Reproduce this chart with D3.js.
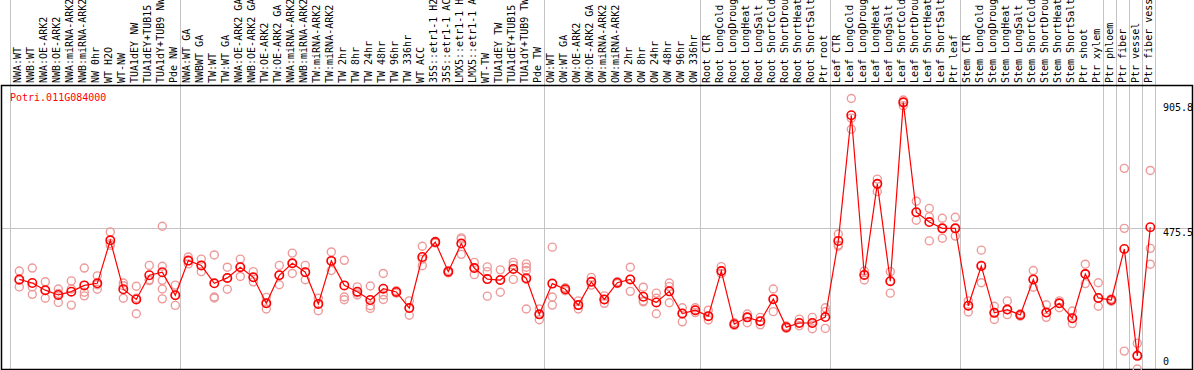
<!DOCTYPE html>
<html>
<head>
<meta charset="utf-8">
<script src="https://cdn.jsdelivr.net/npm/d3@7"></script>
<style>
  body { margin: 0; background: #fff; }
  svg { display: block; }
  text { font-family: "DejaVu Sans Mono", "Liberation Mono", monospace; font-size: 10px; }
</style>
</head>
<body>
<svg id="chart"></svg>
<script>
// Chart data
const geneName = "Potri.011G084000";

const categories = [
  "NWA:WT", "NWB:WT", "NWA:OE-ARK2", "NWB:OE-ARK2", "NWA:miRNA-ARK2", "NWB:miRNA-ARK2",
  "NW 0hr", "WT H2O", "WT-NW", "TUA1dEY NW", "TUA1dEY+TUB15 NW", "TUA1dY+TUB9 NW", "Pde NW",
  "NWA:WT GA", "NWBWT GA", "TW:WT", "TW:WT GA", "NWA:OE-ARK2 GA", "NWB:OE-ARK2 GA",
  "TW:OE-ARK2", "TW:OE-ARK2 GA", "NWA:miRNA-ARK2", "NWB:miRNA-ARK2", "TW:miRNA-ARK2",
  "TW:miRNA-ARK2", "TW 2hr", "TW 8hr", "TW 24hr", "TW 48hr", "TW 96hr", "TW 336hr", "WT ACC",
  "35S::etr1-1 H2O", "35S::etr1-1 ACC", "LMX5::etr1-1 H2O", "LMX5::etr1-1 ACC", "WT-TW",
  "TUA1dEY TW", "TUA1dEY+TUB15 TW", "TUA1dY+TUB9 TW", "Pde TW",
  "OW:WT", "OW:WT GA", "OW:OE-ARK2", "OW:OE-ARK2 GA", "OW:miRNA-ARK2", "OW:miRNA-ARK2",
  "OW 2hr", "OW 8hr", "OW 24hr", "OW 48hr", "OW 96hr", "OW 336hr",
  "Root CTR", "Root LongCold", "Root LongDrought", "Root LongHeat", "Root LongSalt",
  "Root ShortCold", "Root ShortDrought", "Root ShortHeat", "Root ShortSalt", "Ptr root",
  "Leaf CTR", "Leaf LongCold", "Leaf LongDrought", "Leaf LongHeat", "Leaf LongSalt",
  "Leaf ShortCold", "Leaf ShortDrought", "Leaf ShortHeat", "Leaf ShortSalt", "Ptr leaf",
  "Stem CTR", "Stem LongCold", "Stem LongDrought", "Stem LongHeat", "Stem LongSalt",
  "Stem ShortCold", "Stem ShortDrought", "Stem ShortHeat", "Stem ShortSalt", "Ptr shoot",
  "Ptr xylem", "Ptr phloem", "Ptr fiber", "Ptr vessel", "Ptr fiber vessel"
];

const means = [
  300, 288, 264, 248, 259, 280, 287, 431, 267, 233, 314, 324, 247,
  363, 347, 287, 305, 341, 307, 220, 314, 354, 324, 218, 362, 280, 259, 231, 269, 258,
  204, 375, 425, 326, 420, 338, 301, 298, 335, 304, 183,
  286, 267, 214, 292, 233, 289, 300, 242, 223, 260, 186, 197,
  177, 328, 150, 173, 160, 234, 140, 154, 154, 174,
  429, 850, 315, 620, 294, 893, 525, 492, 471, 471,
  212, 345, 188, 199, 181, 300, 189, 220, 170, 318, 238,
  231, 402, 44, 475
];

const replicates = [
  [328, 275, 297], [338, 275, 250], [292, 263, 237], [268, 253, 223], [295, 268, 214],
  [338, 257, 245], [312, 282, 267], [459, 420, 414], [288, 279, 237], [277, 237, 185],
  [347, 299, 296], [478, 344, 297, 268, 235], [281, 247, 213],
  [375, 362, 352], [368, 347, 326], [382, 241, 238], [341, 305, 267], [368, 341, 310],
  [326, 307, 292], [240, 220, 201], [347, 314, 282], [388, 354, 320], [347, 324, 299],
  [237, 218, 195], [392, 362, 330], [364, 241, 232], [275, 255, 248], [278, 212, 203],
  [320, 248, 233], [262, 258, 254], [228, 204, 180], [411, 368, 346], [428, 425, 422],
  [330, 326, 322], [439, 435, 384], [357, 338, 316], [342, 326, 244], [332, 298, 257],
  [357, 348, 300], [352, 341, 330, 300, 201], [201, 183, 165],
  [408, 241, 214], [272, 267, 262], [228, 214, 201], [307, 292, 281], [245, 233, 220],
  [292, 289, 286], [341, 300, 260], [274, 228, 225], [254, 237, 185], [288, 276, 222],
  [205, 186, 158], [205, 197, 189],
  [197, 177, 164], [343, 328, 320], [155, 150, 146], [184, 173, 155], [173, 160, 148],
  [268, 234, 192], [144, 140, 136], [167, 154, 145], [173, 154, 135], [205, 192, 136],
  [452, 415, 411], [905.8, 840, 803], [328, 315, 298], [636, 620, 594], [326, 294, 254],
  [901, 893, 882], [562, 525, 498], [538, 510, 429], [505, 471, 438], [508, 471, 445],
  [228, 212, 191], [398, 348, 289], [210, 188, 166], [228, 199, 182], [185, 181, 177],
  [330, 300, 274], [215, 189, 173], [228, 220, 205], [194, 170, 152], [351, 318, 286],
  [289, 238, 210], [235, 231, 227], [672, 471, 60], [86, 46, 0], [665, 404, 351]
];

// first index of each sample group (vertical separators)
const groupStarts = [0, 13, 41, 53, 63, 73, 84, 85, 86, 87, 88];

const yMax = 951.1;
const yTickValues = [905.8, 475.5, 0];
const gridValues = [475.5];

// Layout
const W = 1194, H = 370;
const plotTop = 85, plotBottom = 369;
const plotLeft = 1, plotRight = 1193;

const svg = d3.select("#chart")
  .attr("width", W)
  .attr("height", H);

svg.append("rect").attr("width", W).attr("height", H).attr("fill", "#fff");

const idx = d3.range(categories.length);

const x = d3.scaleBand()
  .domain(idx.concat([categories.length]))
  .range([10, 10 + 13 * (categories.length + 1)])
  .padding(0);

const px = i => x(i) + 9.3;

const y = d3.scaleLinear()
  .domain([0, yMax])
  .range([plotBottom, plotTop]);

// vertical separators, full height
svg.append("g")
  .selectAll("line")
  .data(groupStarts)
  .enter().append("line")
  .attr("x1", d => Math.round(x(d) + (d > 0 ? 1 : 0)) + 0.5)
  .attr("x2", d => Math.round(x(d) + (d > 0 ? 1 : 0)) + 0.5)
  .attr("y1", 0)
  .attr("y2", H)
  .attr("stroke", "#c4c4c4")
  .attr("stroke-width", 1);

// horizontal grid line
svg.append("g")
  .selectAll("line")
  .data(gridValues)
  .enter().append("line")
  .attr("x1", plotLeft)
  .attr("x2", plotRight)
  .attr("y1", d => Math.round(y(d)) + 1.5)
  .attr("y2", d => Math.round(y(d)) + 1.5)
  .attr("stroke", "#c4c4c4");

// plot frame
svg.append("rect")
  .attr("x", plotLeft + 0.5)
  .attr("y", plotTop + 0.5)
  .attr("width", plotRight - plotLeft - 1)
  .attr("height", plotBottom - plotTop)
  .attr("fill", "none")
  .attr("stroke", "#000")
  .attr("stroke-width", 1.5);

// sample labels, rotated
svg.append("g")
  .selectAll("text")
  .data(idx)
  .enter().append("text")
  .attr("transform", i => "translate(" + (px(i) + 2) + "," + 83 + ") rotate(-90)")
  .attr("fill", "#000")
  .text(i => categories[i]);

// gene name
svg.append("text")
  .attr("x", 10)
  .attr("y", 101)
  .attr("fill", "#ff0000")
  .text(geneName);

// right value labels
svg.append("g")
  .selectAll("text")
  .data(yTickValues)
  .enter().append("text")
  .attr("x", 1163)
  .attr("y", d => Math.min(Math.max(y(d) + 9, 111), 365))
  .attr("fill", "#000")
  .text(d => d);

// replicate circles
const repPoints = [];
replicates.forEach((r, i) => r.forEach(v => repPoints.push({ i: i, v: v })));

svg.append("g")
  .selectAll("circle")
  .data(repPoints)
  .enter().append("circle")
  .attr("cx", d => px(d.i))
  .attr("cy", d => y(d.v))
  .attr("r", 4)
  .attr("fill", "none")
  .attr("stroke", "#ee9a9a")
  .attr("stroke-width", 1.4);

// mean line
const line = d3.line()
  .x(i => px(i))
  .y(i => y(means[i]));

svg.append("path")
  .datum(idx)
  .attr("d", line)
  .attr("fill", "none")
  .attr("stroke", "#ff0000")
  .attr("stroke-width", 1.2);

// mean circles
svg.append("g")
  .selectAll("circle")
  .data(idx)
  .enter().append("circle")
  .attr("cx", i => px(i))
  .attr("cy", i => y(means[i]))
  .attr("r", 4.2)
  .attr("fill", "none")
  .attr("stroke", "#ff0000")
  .attr("stroke-width", 1.6);
</script>
</body>
</html>
